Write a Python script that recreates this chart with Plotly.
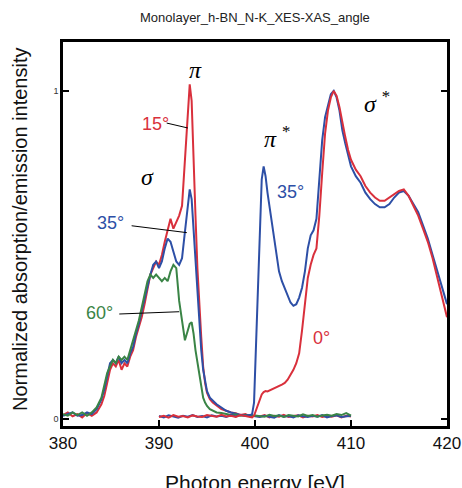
import plotly.graph_objects as go

# ---- N K-edge emission (XES) spectra, monolayer h-BN ----
xes_energy = [
    380.0, 380.5, 381.0, 381.5, 382.0, 382.5, 383.0, 383.5, 384.0,
    384.3, 384.6, 384.9, 385.2, 385.5, 385.8, 386.1, 386.4, 386.7, 387.0,
    387.3, 387.6, 387.9, 388.2, 388.5, 388.8, 389.1, 389.4, 389.7, 390.0,
    390.3, 390.6, 390.9, 391.2, 391.5, 391.8, 392.1, 392.4, 392.7, 393.0,
    393.2, 393.4, 393.6, 393.8, 394.0, 394.2, 394.4, 394.6, 394.8, 395.0,
    395.3, 395.6, 396.0, 396.5, 397.0, 397.5, 398.0, 398.5, 399.0, 399.5, 400.0,
    400.5, 401.0, 401.5, 402.0, 402.5, 403.0, 403.5, 404.0, 404.5, 405.0,
    405.5, 406.0, 406.5, 407.0, 407.5, 408.0, 408.5, 409.0, 409.5, 410.0,
]
xes_15deg = [
    0.012, 0.02, 0.008, 0.015, 0.005, 0.018, 0.01, 0.02, 0.045,
    0.07, 0.11, 0.15, 0.17, 0.16, 0.18, 0.15, 0.17, 0.16, 0.19,
    0.21, 0.25, 0.28, 0.31, 0.35, 0.40, 0.44, 0.46, 0.48, 0.47,
    0.50, 0.54, 0.58, 0.61, 0.58, 0.60, 0.62, 0.65, 0.78, 0.93,
    1.02, 0.97, 0.82, 0.62, 0.46, 0.34, 0.25, 0.16, 0.11, 0.08,
    0.06, 0.05, 0.04, 0.03, 0.025, 0.02, 0.018, 0.012, 0.015, 0.008, 0.01,
    0.008, 0.012, 0.005, 0.01, 0.007, 0.013, 0.006, 0.009, 0.011, 0.005,
    0.01, 0.008, 0.012, 0.006, 0.009, 0.007, 0.011, 0.005, 0.01, 0.008,
]
xes_35deg = [
    0.01, 0.015, 0.02, 0.01, 0.012, 0.02, 0.015, 0.03, 0.06,
    0.09, 0.13, 0.17, 0.18, 0.17, 0.19, 0.17, 0.18, 0.17, 0.20,
    0.22, 0.26, 0.29, 0.33, 0.37, 0.41, 0.44, 0.47, 0.48, 0.46,
    0.48, 0.52, 0.55, 0.54, 0.51, 0.48, 0.47, 0.49, 0.57, 0.66,
    0.70, 0.67, 0.58, 0.48, 0.38, 0.29, 0.21, 0.15, 0.11, 0.085,
    0.065, 0.055, 0.045, 0.035, 0.025, 0.02, 0.015, 0.012, 0.01, 0.012, 0.008,
    0.006, 0.01, 0.008, 0.004, 0.012, 0.007, 0.009, 0.005, 0.011, 0.008,
    0.006, 0.01, 0.007, 0.012, 0.005, 0.009, 0.011, 0.006, 0.008, 0.01,
]
xes_60deg = [
    0.015, 0.01, 0.02, 0.012, 0.02, 0.01, 0.02, 0.035, 0.065,
    0.10, 0.14, 0.16, 0.18, 0.17, 0.19, 0.18, 0.19, 0.18, 0.21,
    0.24, 0.27, 0.30, 0.34, 0.38, 0.42, 0.44, 0.43, 0.44, 0.43,
    0.42, 0.43, 0.42, 0.45, 0.47, 0.46, 0.36, 0.30, 0.24, 0.27,
    0.29, 0.295, 0.26, 0.21, 0.17, 0.13, 0.10, 0.065, 0.05, 0.04,
    0.03, 0.025, 0.02, 0.018, 0.015, 0.012, 0.014, 0.01, 0.012, 0.009, 0.011,
    0.01, 0.007, 0.013, 0.009, 0.011, 0.006, 0.012, 0.01, 0.008, 0.014,
    0.009, 0.012, 0.007, 0.011, 0.013, 0.01, 0.015, 0.012, 0.018, 0.01,
]

# ---- N K-edge absorption (XAS) spectra ----
xas_energy = [
    390.0, 390.5, 391.0, 391.5, 392.0, 392.5, 393.0, 393.5, 394.0, 394.5,
    395.0, 395.5, 396.0, 396.5, 397.0, 397.5, 398.0, 398.5, 399.0, 399.5,
    399.7, 399.9, 400.1, 400.3, 400.5, 400.7, 400.9, 401.1, 401.3, 401.6,
    401.9, 402.2, 402.5, 402.8, 403.1, 403.4, 403.7, 404.0, 404.3, 404.6,
    404.9, 405.2, 405.5, 405.8, 406.1, 406.4, 406.7, 407.0, 407.3, 407.6,
    407.9, 408.2, 408.5, 408.8, 409.1, 409.4, 409.7, 410.0, 410.5, 411.0,
    411.5, 412.0, 412.5, 413.0, 413.5, 414.0, 414.5, 415.0, 415.5, 416.0,
    416.5, 417.0, 417.5, 418.0, 418.5, 419.0, 419.5, 420.0,
]
xas_0deg = [
    0.006, 0.01, 0.004, 0.012, 0.007, 0.009, 0.005, 0.011, 0.008, 0.006,
    0.012, 0.009, 0.007, 0.013, 0.008, 0.01, 0.006, 0.012, 0.009, 0.007,
    0.005, 0.01, 0.025, 0.04, 0.06, 0.075, 0.082, 0.085, 0.084, 0.088,
    0.092, 0.095, 0.10, 0.105, 0.11, 0.12, 0.135, 0.15, 0.17, 0.20,
    0.27, 0.36, 0.43, 0.47, 0.50, 0.52, 0.62, 0.75, 0.87, 0.94,
    0.98, 1.0, 0.985, 0.95, 0.90, 0.86, 0.82, 0.79, 0.76, 0.74,
    0.71, 0.69, 0.675, 0.665, 0.665, 0.675, 0.685, 0.695, 0.70, 0.68,
    0.65, 0.62, 0.58, 0.54, 0.49, 0.43, 0.37, 0.31,
]
xas_35deg = [
    0.009, 0.005, 0.011, 0.008, 0.004, 0.01, 0.007, 0.012, 0.006, 0.009,
    0.005, 0.011, 0.008, 0.01, 0.006, 0.012, 0.008, 0.013, 0.01, 0.012,
    0.015, 0.05, 0.22, 0.42, 0.60, 0.73, 0.77, 0.74, 0.69, 0.63,
    0.57, 0.50, 0.45, 0.42, 0.40, 0.375, 0.355, 0.345, 0.35, 0.37,
    0.40, 0.45, 0.52, 0.56, 0.575, 0.61, 0.72, 0.85, 0.92, 0.96,
    0.99, 1.0, 0.98, 0.94, 0.88, 0.84, 0.80, 0.77, 0.74, 0.72,
    0.69, 0.67, 0.655, 0.645, 0.645, 0.655, 0.675, 0.69, 0.695, 0.68,
    0.655, 0.63, 0.59, 0.55, 0.50, 0.45, 0.40, 0.35,
]

x_ticks = [380, 390, 400, 410, 420]
y_ticks = [0, 1]
y_tick_text = ["0", "1"]

RED = "#d9303c"
BLUE = "#2d4fa6"
GREEN = "#3a8446"
FONT = "Liberation Sans"

fig = go.Figure()

series = [
    (xes_energy, xes_15deg, RED, "XES 15°"),
    (xes_energy, xes_35deg, BLUE, "XES 35°"),
    (xes_energy, xes_60deg, GREEN, "XES 60°"),
    (xas_energy, xas_35deg, BLUE, "XAS 35°"),
    (xas_energy, xas_0deg, RED, "XAS 0°"),
]
for xs, ys, color, name in series:
    fig.add_trace(go.Scatter(
        x=xs, y=ys, mode="lines", name=name,
        line=dict(color=color, width=2),
        showlegend=False,
    ))

# Peak labels
labels = [
    (393.75, 1.064, "<i>π</i>", "black", 24, "Liberation Serif"),
    (388.85, 0.738, "<i>σ</i>", "black", 24, "Liberation Serif"),
    (402.26, 0.861, "<i>π</i> <sup>*</sup>", "black", 24, "Liberation Serif"),
    (412.68, 0.967, "<i>σ</i> <sup>*</sup>", "black", 24, "Liberation Serif"),
    (389.60, 0.900, "15°", RED, 18, FONT),
    (384.90, 0.597, "35°", BLUE, 18, FONT),
    (383.85, 0.322, "60°", GREEN, 18, FONT),
    (403.65, 0.693, "35°", BLUE, 18, FONT),
    (406.95, 0.246, "0°", RED, 18, FONT),
]
for x, y, text, color, size, family in labels:
    fig.add_annotation(x=x, y=y, xref="x", yref="y", text=text, showarrow=False,
                       font=dict(color=color, size=size, family=family),
                       xanchor="center", yanchor="middle")

# Leader lines from the angle labels to their curves
leaders = [
    (390.8, 0.902, 393.0, 0.887),
    (387.15, 0.589, 392.9, 0.568),
    (385.86, 0.320, 392.1, 0.327),
]
for x0, y0, x1, y1 in leaders:
    fig.add_shape(type="line", x0=x0, y0=y0, x1=x1, y1=y1, xref="x", yref="y",
                  line=dict(color="black", width=1))

# Titles
fig.add_annotation(x=0.5, y=1.065, xref="paper", yref="paper",
                   text="Monolayer_h-BN_N-K_XES-XAS_angle", showarrow=False,
                   font=dict(size=13, color="#222", family=FONT),
                   xanchor="center", yanchor="middle")
fig.add_annotation(x=0.5, y=-0.146, xref="paper", yref="paper",
                   text="Photon energy [eV]", showarrow=False,
                   font=dict(size=21, color="#111", family=FONT),
                   xanchor="center", yanchor="middle")
fig.add_annotation(x=-0.112, y=0.513, xref="paper", yref="paper",
                   text="Normalized absorption/emission intensity", showarrow=False,
                   textangle=-90,
                   font=dict(size=20, color="#111", family=FONT),
                   xanchor="center", yanchor="middle")

fig.update_layout(
    width=462, height=488, autosize=False,
    margin=dict(l=63, r=15, t=42, b=62, autoexpand=False),
    paper_bgcolor="white", plot_bgcolor="white",
    showlegend=False,
)
fig.update_xaxes(
    range=[380, 420], tickvals=x_ticks, automargin=False,
    ticks="inside", ticklen=6, tickwidth=2, tickcolor="black",
    showline=True, linewidth=2.5, linecolor="black", mirror=True,
    showgrid=False, zeroline=False,
    tickfont=dict(size=17, color="#111", family=FONT),
)
fig.update_yaxes(
    range=[-0.0213, 1.149], tickvals=y_ticks, ticktext=y_tick_text, automargin=False,
    ticks="inside", ticklen=6, tickwidth=2, tickcolor="black",
    showline=True, linewidth=2.5, linecolor="black", mirror="ticks",
    showgrid=False, zeroline=False,
    tickfont=dict(size=9, color="#333", family=FONT),
)

fig.write_html("out.html", config={"responsive": False})
